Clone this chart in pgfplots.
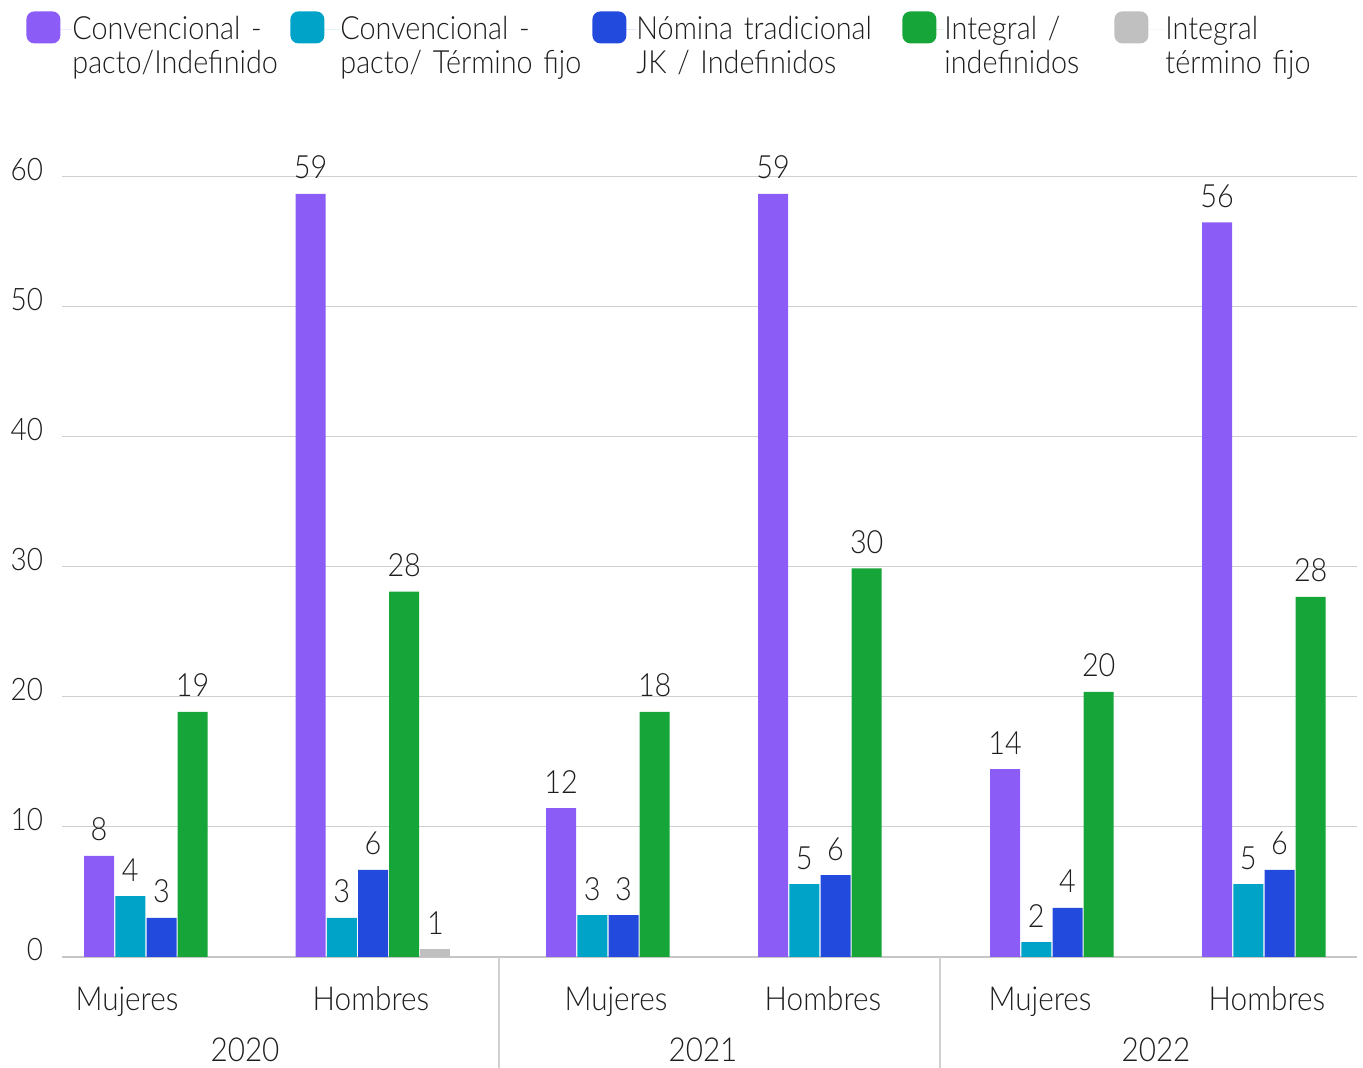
\documentclass[border=0pt]{standalone}
\usepackage{fontspec}
\setmainfont{Lato}[UprightFont=* Light, FakeStretch=0.9, WordSpace=0.75]
\usepackage{pgfplots}
\pgfplotsset{compat=1.18}

\definecolor{cPurple}{RGB}{139,92,246}
\definecolor{cCyan}{RGB}{0,163,200}
\definecolor{cBlue}{RGB}{34,75,222}
\definecolor{cGreen}{RGB}{22,165,56}
\definecolor{cGray}{RGB}{192,192,192}
\definecolor{txt}{RGB}{30,30,30}
\definecolor{gridc}{RGB}{208,208,208}

% legend square, #1 = width of the image cell
\pgfplotsset{
  sq/.style={legend image code/.code={
      \fill[##1, draw=none, rounded corners=4pt] (0pt,-7pt) rectangle (17pt,9pt);
      \path (0pt,0pt) -- (#1,0pt);}},
  % bar in slot #1 (shift in axis units, 1 unit = 0.5pt)
  slot/.style={ybar, bar width=30, bar shift=#1, draw=none,
      every node near coord/.append style={xshift=0.5pt*#1}},
}

\begin{document}
\begin{tikzpicture}
\useasboundingbox (-31pt,-55.5pt) rectangle (650.5pt,478.5pt);
\begin{axis}[
    at={(0,0)}, anchor=south west,
    scale only axis,
    width=647.5pt, height=390pt,
    xmin=62, xmax=1357,
    ymin=0, ymax=60,
    clip=false,
    axis y line*=left,
    axis x line*=bottom,
    axis line style={draw=gray!45, line width=1pt},
    y axis line style={draw=none},
    ymajorgrids,
    grid style={gridc, line width=0.5pt},
    ytick={0,10,...,60},
    xtick={127,371,616,823,1040,1267},
    xticklabels={Mujeres,Hombres,Mujeres,Hombres,Mujeres,Hombres},
    major tick length=0pt,
    xticklabel style={anchor=base, yshift=-27pt, font=\fontsize{16.5}{20}\selectfont, text=txt},
    yticklabel style={anchor=east, xshift=-6pt, yshift=3.5pt, font=\fontsize{15.5}{18}\selectfont, text=txt},
    /pgf/number format/assume math mode=true,
    point meta=explicit symbolic,
    nodes near coords={\pgfplotspointmeta},
    every node near coord/.append style={anchor=base, yshift=7.5pt,
        font=\fontsize{16}{19}\selectfont, text=txt},
    legend columns=5,
    legend cell align=left,
    legend style={at={(-0.0278,1.2128)}, anchor=north west, draw=none, fill=none,
        inner sep=0pt, column sep=0pt, font=\fontsize{16}{17}\selectfont,
        text=txt, nodes={inner sep=0pt}},
]
\addplot[slot=-62.4, fill=cPurple, sq=23pt]
  coordinates {(161.5,7.77)[8] (373,58.7)[59] (623.5,11.46)[12] (835.5,58.7)[59] (1067.5,14.46)[14] (1279.5,56.5)[56]};
\addlegendentry[text width=109pt, align=left]{Convencional -\\pacto/Indefinido}
\addplot[slot=-31.2, fill=cCyan, sq=25pt]
  coordinates {(161.5,4.69)[4] (373,3.0)[3] (623.5,3.23)[3] (835.5,5.6)[5] (1067.5,1.15)[2] (1279.5,5.6)[5]};
\addlegendentry[text width=126pt, align=left]{Convencional -\\pacto/ Término fijo}
\addplot[slot=0, fill=cBlue, sq=22pt]
  coordinates {(161.5,3.0)[3] (373,6.7)[6] (623.5,3.23)[3] (835.5,6.3)[6] (1067.5,3.77)[4] (1279.5,6.7)[6]};
\addlegendentry[text width=133pt, align=left]{Nómina tradicional\\JK / Indefinidos}
\addplot[slot=31.2, fill=cGreen, sq=21pt]
  coordinates {(161.5,18.85)[19] (373,28.1)[28] (623.5,18.85)[18] (835.5,29.9)[30] (1067.5,20.4)[20] (1279.5,27.7)[28]};
\addlegendentry[text width=85pt, align=left]{Integral /\\indefinidos}
\addplot[slot=62.4, fill=cGray, sq=25.5pt]
  coordinates {(373,0.6)[1]};
\addlegendentry[text width=75pt, align=left]{Integral\\término fijo}

\draw[gridc, line width=0.6pt] (axis cs:499,0) -- ([yshift=-55.5pt]axis cs:499,0);
\draw[gridc, line width=0.6pt] (axis cs:940,0) -- ([yshift=-55.5pt]axis cs:940,0);
\node[anchor=base, yshift=-52.5pt, inner sep=0pt, text=txt, font=\fontsize{16.5}{19}\selectfont] at (axis cs:245,0) {2020};
\node[anchor=base, yshift=-52.5pt, inner sep=0pt, text=txt, font=\fontsize{16.5}{19}\selectfont] at (axis cs:703,0) {2021};
\node[anchor=base, yshift=-52.5pt, inner sep=0pt, text=txt, font=\fontsize{16.5}{19}\selectfont] at (axis cs:1156,0) {2022};
\end{axis}
\end{tikzpicture}
\end{document}
